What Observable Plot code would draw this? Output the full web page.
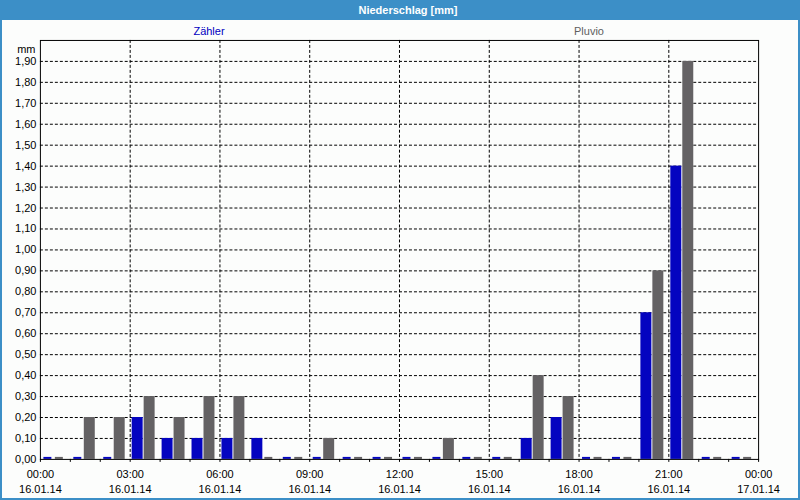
<!DOCTYPE html>
<html><head><meta charset="utf-8">
<script src="https://cdn.jsdelivr.net/npm/d3@7"></script>
<script src="https://cdn.jsdelivr.net/npm/@observablehq/plot@0.6"></script>
<style>
body{margin:0;background:#fff;}
#wrap{position:relative;width:800px;height:500px;box-sizing:border-box;background:#fcfdfc;border:2px solid #3c8fc7;border-top:none;font-family:"Liberation Sans",Arial,sans-serif;overflow:hidden}
#title{position:absolute;left:-2px;top:0;width:800px;height:20px;background:#3c8fc7;}
#title span{position:absolute;left:408px;top:0;transform:translateX(-50%);color:#fff;font-weight:bold;font-size:11px;line-height:20px;white-space:nowrap}
.leg{position:absolute;top:25px;font-size:11px;line-height:13px;transform:translateX(-50%);white-space:nowrap}
#chart{position:absolute;left:-2px;top:20px}
</style>
</head><body>
<div id="wrap">
  <div id="title"><span>Niederschlag [mm]</span></div>
  <div class="leg" style="left:207px;color:#0000c0">Zähler</div>
  <div class="leg" style="left:587px;color:#606060">Pluvio</div>
  <div id="chart"></div>
</div>
<script>
const hours = [0,1,2,3,4,5,6,7,8,9,10,11,12,13,14,15,16,17,18,19,20,21,22,23];
const zaehler = [0,0,0,0.2,0.1,0.1,0.1,0.1,0,0,0,0,0,0,0,0,0.1,0.2,0,0,0.7,1.4,0,0];
const pluvio  = [0,0.2,0.2,0.3,0.2,0.3,0.3,0,0,0.1,0,0,0,0.1,0,0,0.4,0.3,0,0,0.9,1.9,0,0];
const yTicks = [0,0.1,0.2,0.3,0.4,0.5,0.6,0.7,0.8,0.9,1.0,1.1,1.2,1.3,1.4,1.5,1.6,1.7,1.8,1.9];
const labelHours = [0,3,6,9,12,15,18,21,24];

const start = new Date(Date.UTC(2014,0,16));
const H = 3600e3;
const at = h => new Date(+start + h*H);
const end = at(24);
const rows = hours.map((h,i)=>({t0: at(h), t1: at(h+1), z: zaehler[i], p: pluvio[i]}));
const hourTicks = hours.map(at).concat([end]);
const labelTicks = labelHours.map(at);
const blue = "#0404c0", gray = "#646264";

const chart = Plot.plot({
  width: 800, height: 480,
  marginTop: 20, marginBottom: 40, marginLeft: 40, marginRight: 40,
  style: {background: "transparent", fontFamily: "'Liberation Sans', Arial, sans-serif", fontSize: "11px", color: "black"},
  x: {type: "utc", domain: [start, end]},
  y: {domain: [0, 2]},
  marks: [
    Plot.gridY(yTicks.filter(v => v > 0), {stroke: "black", strokeOpacity: 1, strokeDasharray: "3,2"}),
    Plot.gridX(labelTicks.slice(1, -1), {stroke: "black", strokeOpacity: 1, strokeDasharray: "3,2"}),
    Plot.rectY(rows.filter(d => d.z > 0), {x1: "t0", x2: "t1", y1: 0, y2: "z", fill: blue, insetLeft: 2, insetRight: 17}),
    Plot.rectY(rows.filter(d => d.p > 0), {x1: "t0", x2: "t1", y1: 0, y2: "p", fill: gray, insetLeft: 14, insetRight: 5}),
    Plot.rectY(rows.filter(d => d.z === 0), {x1: "t0", x2: "t1", y1: 0, y2: "z", fill: blue, insetLeft: 3.5, insetRight: 18.5, insetTop: -2}),
    Plot.rectY(rows.filter(d => d.p === 0), {x1: "t0", x2: "t1", y1: 0, y2: "p", fill: gray, insetLeft: 15, insetRight: 7, insetTop: -2}),
    Plot.frame({stroke: "black"}),
    Plot.axisY(yTicks, {tickSize: 0, tickPadding: 4, tickFormat: d => d.toFixed(2).replace(".", ","), label: null}),
    Plot.axisX(hourTicks, {tickSize: 3, tickFormat: () => "", label: null}),
    Plot.axisX(labelTicks, {tickSize: 0, tickPadding: 11, tickFormat: d3.utcFormat("%H:%M"), label: null}),
    Plot.axisX(labelTicks, {tickSize: 0, tickPadding: 26, tickFormat: d3.utcFormat("%d.%m.%y"), label: null}),
    Plot.text(["mm"], {frameAnchor: "top-left", dx: -5, dy: 5, textAnchor: "end", fill: "black"})
  ]
});
document.getElementById("chart").appendChild(chart);
</script>
</body></html>
